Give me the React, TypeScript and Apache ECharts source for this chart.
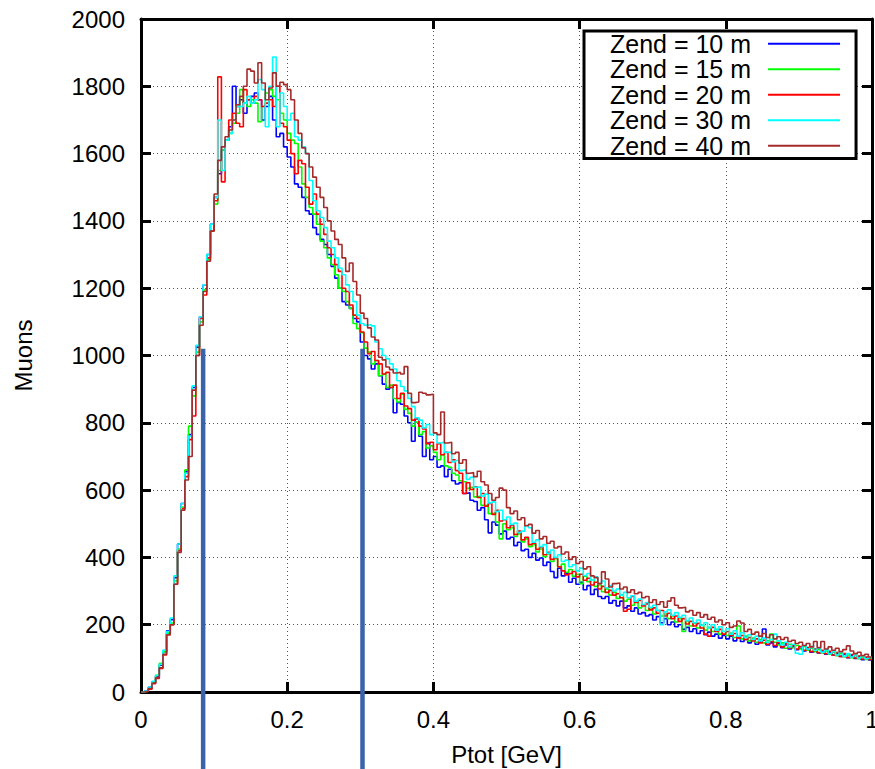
import React, { useEffect, useRef } from "react";
import * as echarts from "echarts";

// Histogram bins: 200 bins of width 0.005 GeV from 0 to 1 GeV
const BIN_WIDTH = 0.005;

const SERIES_NAMES = ["Zend = 10 m", "Zend = 15 m", "Zend = 20 m", "Zend = 30 m", "Zend = 40 m"];
const SERIES_COLORS = ["#0000ff", "#00ff00", "#ff0000", "#00ffff", "#a52a2a"];

const ZEND_10 = [
  0, 3, 14, 30, 48, 80, 120, 182, 215, 340,
  440, 560, 655, 765, 905, 1025, 1115, 1210, 1300, 1390,
  1470, 1540, 1610, 1640, 1680, 1800, 1740, 1760, 1720, 1760,
  1770, 1780, 1760, 1700, 1740, 1770, 1700, 1650, 1660, 1620,
  1590, 1560, 1510, 1500, 1470, 1430, 1420, 1380, 1360, 1345,
  1330, 1300, 1265, 1230, 1200, 1160, 1150, 1140, 1110, 1100,
  1040, 1000, 990, 960, 975, 940, 915, 900, 905, 830,
  860, 855, 820, 800, 745, 812, 760, 700, 740, 690,
  700, 668, 672, 640, 662, 628, 618, 622, 590, 592,
  570, 566, 540, 548, 512, 473, 505, 496, 470, 478,
  455, 460, 435, 445, 420, 424, 400, 412, 392, 398,
  376, 386, 358, 340, 368, 345, 352, 326, 338, 320,
  326, 304, 316, 290, 305, 284, 278, 284, 264, 272,
  256, 270, 250, 256, 240, 250, 232, 236, 226, 230,
  214, 224, 206, 218, 200, 208, 194, 200, 186, 192,
  180, 188, 174, 182, 170, 178, 166, 172, 160, 168,
  158, 166, 152, 160, 150, 156, 146, 154, 142, 150,
  187, 140, 146, 134, 144, 132, 140, 128, 136, 126,
  130, 122, 128, 118, 126, 116, 122, 112, 118, 110,
  114, 106, 112, 102, 108, 100, 105, 96, 102, 95,
];

const ZEND_15 = [
  0, 2, 12, 30, 50, 85, 120, 175, 205, 330,
  425, 550, 660, 790, 880, 1010, 1100, 1195, 1285, 1370,
  1450, 1550, 1610, 1640, 1660, 1690, 1720, 1790, 1750, 1740,
  1760, 1750, 1695, 1740, 1780, 1790, 1770, 1760, 1720, 1700,
  1660, 1640, 1630, 1560, 1510, 1470, 1440, 1420, 1390, 1340,
  1320, 1290, 1270, 1240, 1200, 1190, 1160, 1140, 1095, 1080,
  1068, 1022, 1010, 975, 985, 940, 945, 905, 912, 872,
  862, 885, 840, 828, 790, 802, 765, 774, 725, 732,
  712, 690, 705, 672, 668, 650, 645, 628, 625, 605,
  608, 580, 582, 555, 555, 530, 532, 505, 455, 500,
  482, 488, 462, 470, 446, 455, 432, 438, 416, 425,
  402, 410, 388, 396, 372, 380, 356, 364, 344, 350,
  322, 344, 328, 332, 314, 318, 298, 306, 288, 296,
  278, 288, 270, 276, 258, 268, 250, 258, 242, 250,
  232, 242, 226, 232, 218, 226, 208, 218, 180, 210,
  196, 204, 190, 198, 184, 192, 180, 186, 172, 180,
  168, 175, 162, 196, 158, 166, 152, 160, 148, 156,
  146, 152, 172, 148, 140, 146, 130, 142, 132, 138,
  128, 135, 124, 130, 120, 126, 116, 122, 112, 118,
  108, 114, 105, 110, 102, 108, 99, 104, 97, 100,
];

const ZEND_20 = [
  0, 2, 8, 25, 40, 70, 110, 170, 200, 320,
  420, 545, 640, 750, 820, 1000, 1110, 1180, 1290, 1370,
  1460, 1828, 1516, 1640, 1700, 1720, 1690, 1680, 1790, 1760,
  1750, 1770, 1760, 1740, 1750, 1760, 1740, 1800, 1690, 1680,
  1640, 1600, 1540, 1580, 1570, 1500, 1450, 1480, 1420, 1390,
  1360, 1320, 1300, 1270, 1250, 1200, 1190, 1150, 1120, 1110,
  1070, 1040, 1005, 1012, 985, 975, 945, 950, 905, 912,
  872, 888, 850, 842, 808, 812, 790, 782, 738, 742,
  720, 738, 705, 712, 682, 690, 658, 650, 590, 622,
  602, 610, 578, 590, 552, 560, 528, 540, 508, 512,
  488, 495, 468, 478, 452, 460, 438, 442, 424, 430,
  408, 415, 394, 398, 372, 360, 348, 352, 358, 342,
  350, 332, 338, 318, 326, 306, 314, 296, 302, 288,
  292, 280, 240, 246, 284, 266, 272, 256, 262, 244,
  250, 234, 242, 226, 234, 218, 226, 210, 218, 202,
  210, 196, 204, 190, 172, 166, 192, 180, 186, 172,
  180, 168, 174, 160, 168, 156, 162, 152, 158, 146,
  154, 142, 150, 138, 147, 134, 143, 131, 139, 128,
  135, 124, 132, 120, 128, 117, 124, 114, 121, 110,
  117, 106, 114, 103, 111, 101, 107, 98, 104, 97,
];

const ZEND_30 = [
  0, 3, 14, 32, 50, 82, 125, 180, 220, 345,
  440, 560, 650, 760, 910, 1030, 1115, 1210, 1300, 1390,
  1470, 1700, 1550, 1640, 1660, 1700, 1740, 1740, 1750, 1770,
  1750, 1760, 1820, 1790, 1680, 1800, 1887, 1680, 1780, 1740,
  1700, 1720, 1650, 1640, 1620, 1600, 1520, 1460, 1430, 1410,
  1380, 1340, 1320, 1290, 1260, 1240, 1210, 1190, 1160, 1120,
  1095, 1090, 1092, 1088, 1040, 1020, 1000, 990, 975, 960,
  925, 908, 895, 872, 848, 815, 808, 785, 795, 765,
  768, 740, 742, 712, 712, 684, 688, 658, 660, 632,
  638, 608, 610, 582, 588, 562, 565, 536, 540, 512,
  520, 498, 502, 474, 478, 495, 488, 445, 452, 432,
  438, 412, 422, 400, 408, 388, 392, 372, 378, 360,
  368, 346, 352, 332, 342, 322, 330, 310, 316, 300,
  306, 288, 296, 280, 286, 270, 276, 260, 266, 252,
  258, 242, 200, 238, 244, 228, 236, 222, 228, 212,
  220, 206, 214, 198, 206, 190, 200, 184, 194, 180,
  188, 172, 182, 166, 176, 162, 170, 156, 166, 152,
  160, 148, 156, 172, 152, 140, 148, 134, 142, 115,
  112, 138, 128, 136, 124, 130, 118, 126, 114, 122,
  110, 118, 106, 114, 104, 110, 101, 107, 99, 103,
];

const ZEND_40 = [
  0, 2, 10, 26, 42, 72, 112, 170, 200, 320,
  415, 540, 630, 700, 897, 1000, 1090, 1190, 1280, 1370,
  1480, 1580, 1620, 1650, 1670, 1700, 1745, 1770, 1800, 1851,
  1845, 1810, 1870, 1810, 1760, 1795, 1840, 1800, 1812, 1805,
  1790, 1760, 1700, 1660, 1617, 1600, 1560, 1530, 1500, 1470,
  1440, 1400, 1370, 1345, 1330, 1290, 1250, 1275, 1220, 1180,
  1126, 1110, 1082, 1055, 1046, 995, 987, 966, 958, 948,
  950, 945, 967, 888, 860, 862, 891, 888, 883, 885,
  770, 765, 832, 740, 742, 708, 712, 680, 690, 650,
  652, 640, 656, 625, 615, 590, 570, 578, 606, 600,
  548, 530, 538, 512, 518, 494, 498, 472, 480, 455,
  462, 442, 448, 428, 432, 410, 416, 394, 402, 382,
  388, 366, 372, 345, 340, 322, 357, 336, 312, 322,
  324, 306, 312, 296, 304, 292, 296, 280, 284, 266,
  274, 260, 268, 252, 270, 280, 258, 250, 252, 238,
  242, 228, 236, 222, 230, 216, 222, 208, 214, 200,
  206, 192, 196, 211, 205, 180, 186, 172, 178, 166,
  174, 162, 170, 158, 164, 156, 162, 150, 154, 144,
  148, 138, 144, 134, 150, 132, 150, 128, 134, 124,
  130, 120, 126, 137, 122, 114, 118, 108, 112, 104,
];

const SERIES_VALUES = [ZEND_10, ZEND_15, ZEND_20, ZEND_30, ZEND_40];

// Axes
const X_MIN = 0;
const X_MAX = 1;
const X_INTERVAL = 0.2;
const Y_MIN = 0;
const Y_MAX = 2000;
const Y_INTERVAL = 200;

// Cut markers (vertical blue bars)
const CUT_POSITIONS = [0.085, 0.303];
const CUT_HEIGHT = 1020;

const FONT = "'Liberation Sans', Arial, Helvetica, sans-serif";

function toSteps(values: number[]): number[][] {
  const pts = values.map((v, i) => [Number((i * BIN_WIDTH).toFixed(4)), v]);
  pts.push([Number((values.length * BIN_WIDTH).toFixed(4)), values[values.length - 1]]);
  return pts;
}

export default function App() {
  const ref = useRef<HTMLDivElement>(null);

  useEffect(() => {
    if (!ref.current) return;
    const chart = echarts.init(ref.current, undefined, { renderer: "svg" });

    const frameLine = { show: true, onZero: false, lineStyle: { color: "#000", width: 3 } };
    const frameTick = { show: true, inside: true, length: 10, lineStyle: { color: "#000", width: 3 } };
    const grid = { show: true, lineStyle: { color: "#555", width: 1, type: [1, 3] } };

    chart.setOption({
      animation: false,
      backgroundColor: "#fff",
      grid: {
        left: 141,
        right: 3,
        top: 19,
        bottom: 77,
        containLabel: false,
        outerBoundsMode: "none",
      },
      legend: {
        orient: "vertical",
        left: 584,
        top: 31,
        align: "right",
        icon: "rect",
        itemWidth: 72,
        itemHeight: 2,
        itemGap: 0,
        padding: [0, 16, 0, 26],
        borderColor: "#000",
        borderWidth: 3,
        backgroundColor: "#fff",
        selectedMode: false,
        textStyle: {
          fontSize: 25,
          fontFamily: FONT,
          color: "#000",
          lineHeight: 25.5,
          padding: [0, 12, 0, 0],
        },
        data: SERIES_NAMES,
      },
      xAxis: [
        {
          type: "value",
          min: X_MIN,
          max: X_MAX,
          interval: X_INTERVAL,
          position: "bottom",
          axisLine: frameLine,
          axisTick: frameTick,
          axisLabel: {
            margin: 15,
            fontSize: 24,
            color: "#000",
            fontFamily: FONT,
            showMinLabel: true,
            showMaxLabel: true,
            formatter: (v: number) => String(Number(v.toFixed(4))),
          },
          splitLine: grid,
          name: "Ptot [GeV]",
          nameLocation: "middle",
          nameGap: 50,
          nameTextStyle: { fontSize: 24, color: "#000", fontFamily: FONT },
        },
        {
          type: "value",
          min: X_MIN,
          max: X_MAX,
          interval: X_INTERVAL,
          position: "top",
          axisLine: frameLine,
          axisTick: frameTick,
          axisLabel: { show: false },
          splitLine: { show: false },
        },
      ],
      yAxis: [
        {
          type: "value",
          min: Y_MIN,
          max: Y_MAX,
          interval: Y_INTERVAL,
          position: "left",
          axisLine: frameLine,
          axisTick: frameTick,
          axisLabel: {
            margin: 16,
            fontSize: 24,
            color: "#000",
            fontFamily: FONT,
            formatter: (v: number) => String(v),
          },
          splitLine: grid,
          name: "Muons",
          nameLocation: "middle",
          nameGap: 106,
          nameTextStyle: { fontSize: 24, color: "#000", fontFamily: FONT },
        },
        {
          type: "value",
          min: Y_MIN,
          max: Y_MAX,
          interval: Y_INTERVAL,
          position: "right",
          axisLine: frameLine,
          axisTick: frameTick,
          axisLabel: { show: false },
          splitLine: { show: false },
        },
      ],
      series: SERIES_VALUES.map((vals, i) => ({
        name: SERIES_NAMES[i],
        type: "line",
        step: "end",
        symbol: "none",
        xAxisIndex: 0,
        yAxisIndex: 0,
        color: SERIES_COLORS[i],
        lineStyle: { color: SERIES_COLORS[i], width: 1.6 },
        data: toSteps(vals),
        clip: true,
      })),
    });

    const h = chart.getHeight();
    const bars = CUT_POSITIONS.map((x) => {
      const p = chart.convertToPixel({ xAxisIndex: 0, yAxisIndex: 0 }, [x, CUT_HEIGHT]) as number[];
      return {
        type: "line",
        z: 100,
        shape: { x1: p[0], y1: p[1], x2: p[0], y2: h },
        style: { stroke: "#3a63aa", lineWidth: 4.5 },
      };
    });
    chart.setOption({ graphic: bars });

    return () => chart.dispose();
  }, []);

  return (
    <div
      ref={ref}
      style={{ position: "absolute", left: 0, top: 0, width: 875, height: 769, background: "#fff" }}
    />
  );
}
